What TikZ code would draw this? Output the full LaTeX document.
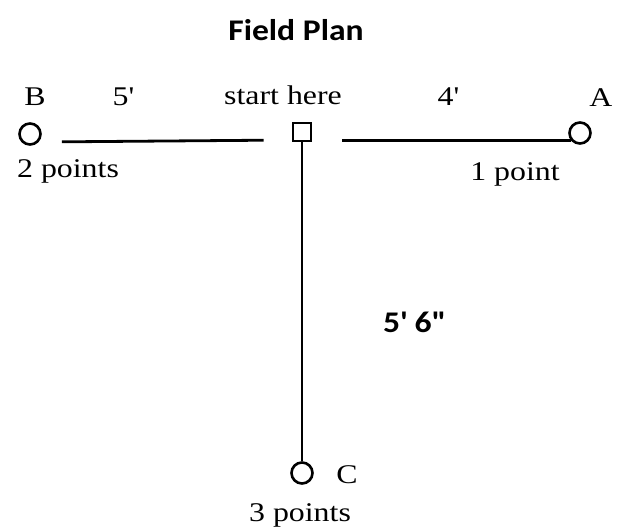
\documentclass[tikz,border=0pt]{standalone}
\usepackage{fontspec}
\setmainfont{Liberation Serif}[FakeStretch=1.18]
\newfontfamily\plantitle{Carlito}[FakeStretch=1.12]
\usepackage{tikz}
\usetikzlibrary{calc}

\begin{document}
\begin{tikzpicture}[x=1pt, y=-1pt,
    pt/.style={circle, draw, line width=2.6pt, minimum size=21pt, inner sep=0pt},
    sq/.style={rectangle, draw, line width=2.6pt, minimum size=18pt, inner sep=0pt},
    wire/.style={line width=2.8pt},
    lbl/.style={anchor=base, font=\fontsize{27}{30}\selectfont},
    sanslbl/.style={anchor=base, font=\plantitle\bfseries\fontsize{30}{34}\selectfont}]
    \useasboundingbox (0,0) rectangle (625,527);

    \node[sanslbl] (title) at (296,41) {Field Plan};

    \node[sq] (start) at (302,132) {};
    \node[pt] (ptB) at (30,134) {};
    \node[pt] (ptA) at (580,133) {};
    \node[pt] (ptC) at (302,473) {};

    \node[lbl] (labB) at (35,106) {B};
    \node[lbl] (distB) at (123,106) {5\textquotesingle};
    \node[lbl] (labStart) at (283,105) {start here};
    \node[lbl] (distA) at (448,106) {4\textquotesingle};
    \node[lbl] (labA) at (601,107) {A};
    \node[lbl] (scoreB) at (68,178) {2 points};
    \node[lbl] (scoreA) at (515,180) {1 point};
    \node[lbl] (labC) at (347,483) {C};
    \node[lbl] (scoreC) at (300,521) {3 points};
    \node[sanslbl] (distC) at (414,332) {5\textquotesingle{} 6\textquotedbl};

    % paths out from the start square
    \draw[wire, shorten <=20pt, shorten >=28pt] ([yshift=-8pt]ptB.east) -- ([yshift=-8pt]start.west);
    \draw[wire, shorten <=30pt] (start.east |- ptA.220) -- (ptA.220);
    \draw[wire] (start.south) -- (ptC.north);
\end{tikzpicture}
\end{document}
